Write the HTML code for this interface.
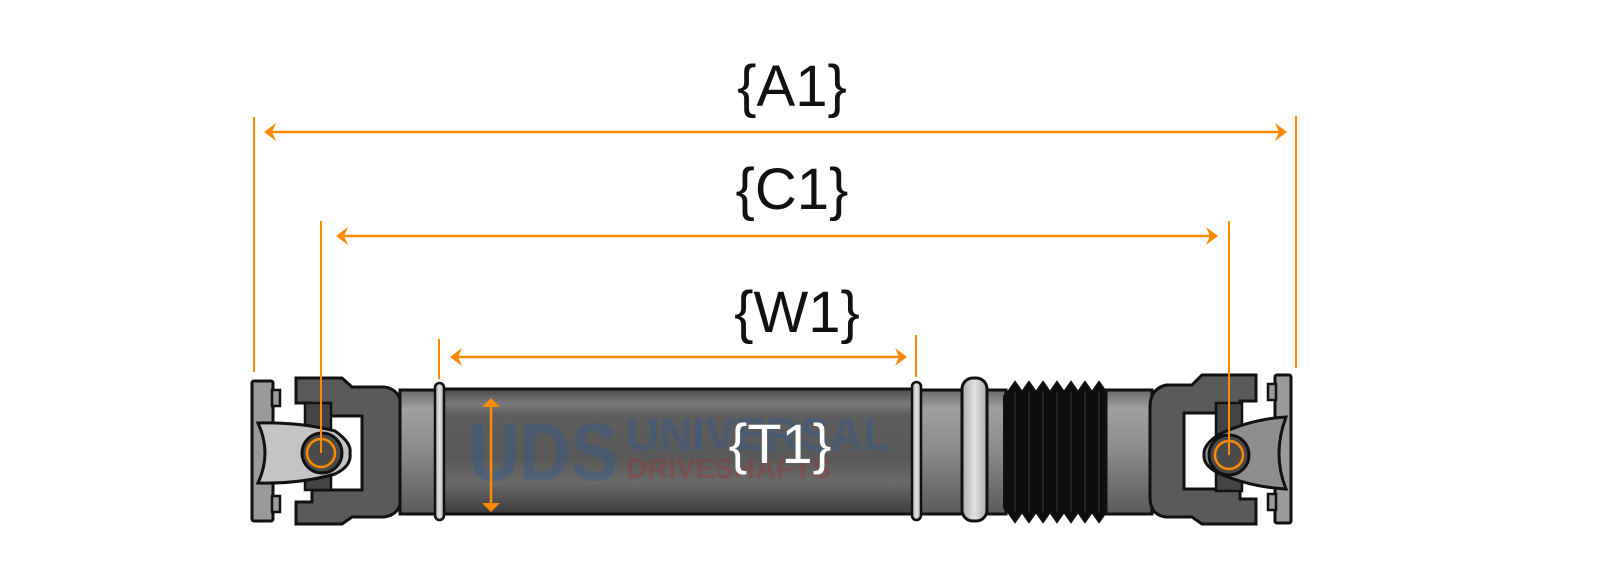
<!DOCTYPE html>
<html><head><meta charset="utf-8"><style>
html,body{margin:0;padding:0;background:#fff;}
svg{display:block;}
text{font-family:"Liberation Sans",sans-serif;}
</style></head><body>
<svg width="1600" height="568" viewBox="0 0 1600 568" xmlns="http://www.w3.org/2000/svg">
<defs>
<linearGradient id="tube" x1="0" y1="0" x2="0" y2="1">
<stop offset="0" stop-color="#4a4a4a"/><stop offset="0.12" stop-color="#7a7a7a"/><stop offset="0.2" stop-color="#5e5e5e"/><stop offset="0.55" stop-color="#595959"/><stop offset="0.75" stop-color="#6a6a6a"/><stop offset="1" stop-color="#3c3c3c"/>
</linearGradient>
<linearGradient id="sleeve" x1="0" y1="0" x2="0" y2="1">
<stop offset="0" stop-color="#6a6a6a"/><stop offset="0.15" stop-color="#a0a0a0"/><stop offset="0.5" stop-color="#8a8a8a"/><stop offset="1" stop-color="#5a5a5a"/>
</linearGradient>
<linearGradient id="ring" x1="0" y1="0" x2="1" y2="0">
<stop offset="0" stop-color="#aaa"/><stop offset="0.5" stop-color="#e2e2e2"/><stop offset="1" stop-color="#aaa"/>
</linearGradient>
</defs>

<g stroke="#ff8a00" stroke-width="2" fill="none">
<line x1="254" y1="117" x2="254" y2="372"/>
<line x1="1296" y1="116" x2="1296" y2="368"/>
<line x1="267" y1="132" x2="1284" y2="132" stroke-width="2.5"/>
<line x1="439" y1="339" x2="439" y2="379"/>
<line x1="916" y1="335" x2="916" y2="377"/>
<line x1="454" y1="357" x2="903" y2="357" stroke-width="2.5"/>
<line x1="339" y1="236" x2="1215" y2="236" stroke-width="2.5"/>
</g>
<g fill="#ff8a00">
<polygon points="264,132 276,123 272,132 276,141"/>
<polygon points="1287,132 1275,123 1279,132 1275,141"/>
<polygon points="336,236 348,227 344,236 348,245"/>
<polygon points="1218,236 1206,227 1210,236 1206,245"/>
<polygon points="450,357 462,348 458,357 462,366"/>
<polygon points="907,357 895,348 899,357 895,366"/>
</g>
<g font-size="58" fill="#111" text-anchor="middle">
<text x="792" y="106">{A1}</text>
<text x="792" y="209">{C1}</text>
<text x="797" y="332">{W1}</text>
</g>

<!-- left flange -->
<rect x="252" y="381" width="21" height="140" rx="2" fill="#9a9a9a" stroke="#111" stroke-width="3"/>
<rect x="272" y="390" width="8" height="16" fill="#9a9a9a" stroke="#111" stroke-width="2.5"/>
<rect x="272" y="496" width="8" height="16" fill="#9a9a9a" stroke="#111" stroke-width="2.5"/>
<path d="M296,378 L342,378 L352,387 L384,387 Q400,389 402,407 L402,497 Q400,515 384,517 L352,517 L342,524 L296,524 L296,502 L312,502 L312,490 L362,490 L362,416 L312,416 L312,403 L296,403 Z" fill="#5a5a5a" stroke="#111" stroke-width="3"/>
<rect x="305" y="403" width="26" height="87" fill="#444" stroke="#111" stroke-width="2.5"/>
<path d="M258,423 Q300,422 335,431 Q352,443 350,453 Q352,466 335,474 Q300,484 258,483 Q272,453 258,423 Z" fill="#c4c4c4" stroke="#111" stroke-width="3"/>
<circle cx="322" cy="453" r="20" fill="#4a4a4a" stroke="#111" stroke-width="3"/>
<circle cx="321" cy="453" r="14" fill="none" stroke="#ff8a00" stroke-width="2.5"/>
<line x1="321" y1="221" x2="321" y2="453" stroke="#ff8a00" stroke-width="2"/>

<rect x="400" y="390" width="39" height="124" fill="url(#sleeve)" stroke="#111" stroke-width="3"/>
<rect x="439" y="389" width="477" height="125" fill="url(#tube)" stroke="#111" stroke-width="3"/>
<g opacity="0.35" font-weight="bold">
<text x="468" y="480" font-size="82" fill="#2a5a9a" textLength="150" lengthAdjust="spacingAndGlyphs">UDS</text>
<text x="626" y="450" font-size="46" fill="#2a5a9a" textLength="265" lengthAdjust="spacingAndGlyphs">UNIVERSAL</text>
<text x="626" y="478" font-size="28" fill="#a03030" textLength="205" lengthAdjust="spacingAndGlyphs">DRIVESHAFTS</text>
</g>
<text x="780" y="463" font-size="56" fill="#fff" text-anchor="middle">{T1}</text>
<line x1="491" y1="405" x2="491" y2="505" stroke="#ff8a00" stroke-width="2.5"/>
<polygon points="491,398 482,407 500,407" fill="#ff8a00"/>
<polygon points="491,512 482,503 500,503" fill="#ff8a00"/>
<rect x="435" y="383" width="9" height="137" rx="4.5" fill="url(#ring)" stroke="#111" stroke-width="2.5"/>

<rect x="916" y="390" width="60" height="124" fill="url(#sleeve)" stroke="#111" stroke-width="3"/>
<rect x="912" y="382" width="9" height="138" rx="4.5" fill="url(#ring)" stroke="#111" stroke-width="2.5"/>
<rect x="976" y="390" width="30" height="124" fill="url(#sleeve)" stroke="#111" stroke-width="3"/>
<rect x="962" y="378" width="25" height="143" rx="11" fill="url(#ring)" stroke="#111" stroke-width="3"/>
<path d="M1004,396 L1008,392 L1015,382 L1022,392 L1029,382 L1036,392 L1043,382 L1050,392 L1057,382 L1064,392 L1071,382 L1078,392 L1085,382 L1092,392 L1099,382 L1106,392 L1106,512 L1099,522 L1092,512 L1085,522 L1078,512 L1071,522 L1064,512 L1057,522 L1050,512 L1043,522 L1036,512 L1029,522 L1022,512 L1015,522 L1008,512 L1004,508 Z" fill="#0d0d0d" stroke="#111" stroke-width="2"/>
<g stroke="#2a2a2a" stroke-width="1.5">
<line x1="1015" y1="392" x2="1015" y2="512"/><line x1="1029" y1="392" x2="1029" y2="512"/><line x1="1043" y1="392" x2="1043" y2="512"/><line x1="1057" y1="392" x2="1057" y2="512"/><line x1="1071" y1="392" x2="1071" y2="512"/><line x1="1085" y1="392" x2="1085" y2="512"/><line x1="1099" y1="392" x2="1099" y2="512"/>
</g>
<rect x="1106" y="390" width="46" height="124" fill="url(#sleeve)" stroke="#111" stroke-width="3"/>

<path d="M1256,375 L1202,375 L1192,385 L1166,385 Q1150,389 1150,407 L1150,497 Q1150,515 1166,517 L1192,517 L1202,524 L1256,524 L1256,499 L1240,499 L1240,489 L1184,489 L1184,413 L1240,413 L1240,401 L1256,401 Z" fill="#5a5a5a" stroke="#111" stroke-width="3"/>
<rect x="1216" y="403" width="26" height="88" fill="#444" stroke="#111" stroke-width="2.5"/>
<rect x="1275" y="375" width="16" height="148" rx="2" fill="#9a9a9a" stroke="#111" stroke-width="3"/>
<rect x="1268" y="384" width="8" height="16" fill="#9a9a9a" stroke="#111" stroke-width="2.5"/>
<rect x="1268" y="494" width="8" height="16" fill="#9a9a9a" stroke="#111" stroke-width="2.5"/>
<path d="M1286,417 Q1250,419 1218,435 Q1203,445 1204,455 Q1203,465 1218,473 Q1250,487 1286,489 Q1272,454 1286,417 Z" fill="#8e8e8e" stroke="#111" stroke-width="3"/>
<circle cx="1229" cy="455" r="20" fill="#4a4a4a" stroke="#111" stroke-width="3"/>
<circle cx="1229" cy="455" r="14" fill="none" stroke="#ff8a00" stroke-width="2.5"/>
<line x1="1229" y1="221" x2="1229" y2="455" stroke="#ff8a00" stroke-width="2"/>
</svg>
</body></html>
